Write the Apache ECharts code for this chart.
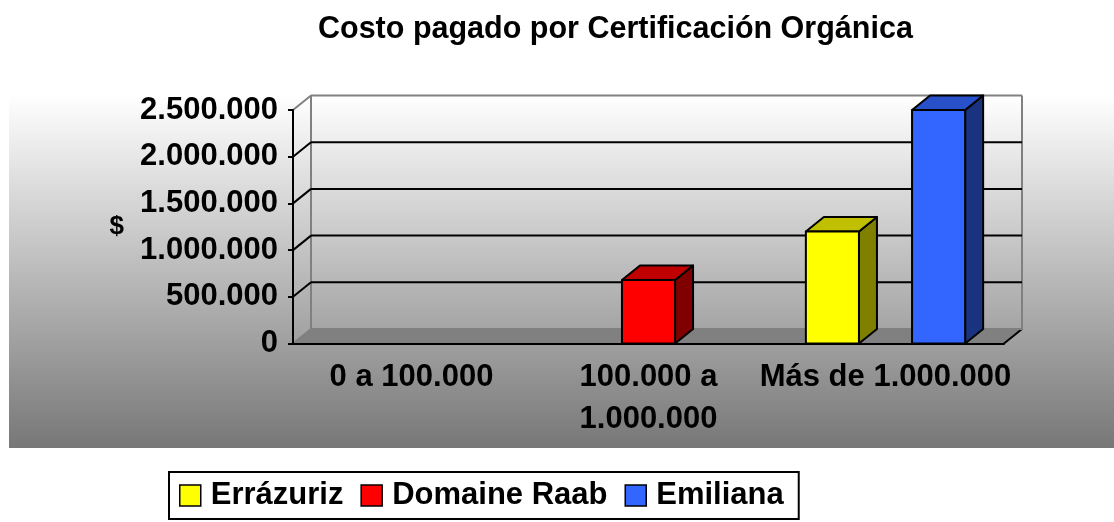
<!DOCTYPE html>
<html>
<head>
<meta charset="utf-8">
<title>Costo pagado por Certificación Orgánica</title>
<script src="https://cdn.jsdelivr.net/npm/echarts@6/dist/echarts.min.js"></script>
<style>
  html, body { margin: 0; padding: 0; background: #fff; }
  #chart { width: 1114px; height: 522px; }
</style>
</head>
<body>
<div id="chart"></div>
<script>
// datos del grafico
var categorias = ['0 a 100.000', '100.000 a\n1.000.000', 'Más de 1.000.000'];
var errazuriz = [0, 0, 1200000];
var domaineRaab = [0, 680000, 0];
var emiliana = [0, 0, 2500000];
var yTicks = [0, 500000, 1000000, 1500000, 2000000, 2500000];

var nombres = ['Errázuriz', 'Domaine Raab', 'Emiliana'];
var valores = [errazuriz, domaineRaab, emiliana];
// colores: frente, techo, lado
var colores = [
  ['#ffff00', '#c0c000', '#808000'],
  ['#ff0000', '#c00000', '#800000'],
  ['#3366ff', '#2850c8', '#193380']
];

var FONT = '"Liberation Sans", Arial, sans-serif';
var DX = 18, DY = -14.5; // profundidad del efecto 3D

function fmt(v) {
  return String(v).replace(/\B(?=(\d{3})+(?!\d))/g, '.');
}

var chart = echarts.init(document.getElementById('chart'));

// pared de fondo, piso y lineas de division
function renderWalls(params, api) {
  var cs = params.coordSys;
  var v = api.value(1);
  var y = api.coord([0, v])[1];
  var xl = cs.x, xr = cs.x + cs.width;
  var gris = '#808080';
  var borde = (v === yTicks[0] || v === yTicks[yTicks.length - 1]);
  var children = [];
  if (v === yTicks[0]) {
    children.push({ type: 'polygon', shape: { points: [[xl, y], [xr, y], [xr + DX, y + DY], [xl + DX, y + DY]] },
      style: { fill: '#808080' } });
    children.push({ type: 'line', shape: { x1: xl + DX, y1: cs.y + DY, x2: xl + DX, y2: y + DY },
      style: { stroke: gris, lineWidth: 2 } });
    children.push({ type: 'line', shape: { x1: xr + DX, y1: cs.y + DY, x2: xr + DX, y2: y + DY },
      style: { stroke: gris, lineWidth: 2 } });
    children.push({ type: 'line', shape: { x1: xr, y1: y, x2: xr + DX, y2: y + DY },
      style: { stroke: '#000', lineWidth: 2 } });
  }
  children.push({ type: 'line', shape: { x1: xl + DX, y1: y + DY, x2: xr + DX, y2: y + DY },
    style: { stroke: borde ? gris : '#000', lineWidth: 2 } });
  children.push({ type: 'line', shape: { x1: xl, y1: y, x2: xl + DX, y2: y + DY },
    style: { stroke: borde ? gris : '#000', lineWidth: 2 } });
  return { type: 'group', children: children };
}

// barra 3D: frente, techo y lado
function makeBar(s) {
  return function (params, api) {
    var v = api.value(1);
    if (!v) return;
    var top = api.coord([api.value(0), v]);
    var base = api.coord([api.value(0), 0]);
    var w = api.size([1, 0])[0] * 0.224;
    var x0 = top[0] + (s - 1) * w - w / 2;
    var x1 = x0 + w, yt = top[1], yb = base[1];
    var c = colores[s];
    function st(fill) {
      return { fill: fill, stroke: '#000', lineWidth: 2, lineJoin: 'round' };
    }
    return {
      type: 'group',
      children: [
        { type: 'polygon', shape: { points: [[x1, yt], [x1 + DX, yt + DY], [x1 + DX, yb + DY], [x1, yb]] }, style: st(c[2]) },
        { type: 'polygon', shape: { points: [[x0, yt], [x1, yt], [x1 + DX, yt + DY], [x0 + DX, yt + DY]] }, style: st(c[1]) },
        { type: 'rect', shape: { x: x0, y: yt, width: w, height: yb - yt }, style: st(c[0]) }
      ]
    };
  };
}

var series = [{
  name: 'paredes',
  type: 'custom',
  z: 1,
  silent: true,
  renderItem: renderWalls,
  encode: { x: 0, y: 1 },
  data: yTicks.map(function (t) { return [0, t]; })
}];
nombres.forEach(function (n, s) {
  series.push({
    name: n,
    type: 'custom',
    z: 3,
    renderItem: makeBar(s),
    itemStyle: { color: colores[s][0] },
    encode: { x: 0, y: 1 },
    data: valores[s].map(function (v, i) { return [i, v]; })
  });
});

var option = {
  backgroundColor: '#fff',
  animation: false,
  title: {
    text: 'Costo pagado por Certificación Orgánica',
    left: 313,
    top: 9,
    textStyle: { fontFamily: FONT, fontSize: 30.5, fontWeight: 'bold', color: '#000' }
  },
  graphic: [{
    type: 'rect',
    z: -10,
    silent: true,
    shape: { x: 9, y: 95, width: 1105, height: 353 },
    style: {
      fill: new echarts.graphic.LinearGradient(0, 0, 0, 1, [
        { offset: 0, color: '#ffffff' },
        { offset: 1, color: '#777777' }
      ])
    }
  }],
  legend: {
    data: nombres,
    left: 169,
    top: 472,
    icon: 'rect',
    itemWidth: 21,
    itemHeight: 21,
    itemGap: 17,
    selectedMode: false,
    padding: [8, 15, 8, 10],
    borderColor: '#000',
    borderWidth: 2,
    backgroundColor: '#fff',
    itemStyle: { borderColor: '#000', borderWidth: 1.5 },
    formatter: '{n|{name}}',
    textStyle: {
      fontFamily: FONT, fontSize: 31, fontWeight: 'bold', color: '#000',
      rich: { n: { fontFamily: FONT, fontSize: 31, fontWeight: 'bold', color: '#000', padding: [0, 0, 0, 5], lineHeight: 34 } }
    }
  },
  grid: { left: 293, right: 110, top: 110, bottom: 178.5 },
  xAxis: {
    type: 'category',
    data: categorias,
    z: 5,
    axisLine: { lineStyle: { color: '#000', width: 2 } },
    axisTick: { interval: 0, length: 5, lineStyle: { color: '#000', width: 2 } },
    axisLabel: { interval: 0, margin: 13, fontFamily: FONT, fontSize: 31, fontWeight: 'bold', color: '#000', lineHeight: 42 }
  },
  yAxis: {
    type: 'value',
    min: yTicks[0],
    max: yTicks[yTicks.length - 1],
    interval: yTicks[1] - yTicks[0],
    z: 5,
    name: '$',
    nameLocation: 'middle',
    nameRotate: 0,
    nameGap: 169,
    nameTextStyle: { fontFamily: FONT, fontSize: 26, fontWeight: 'bold', color: '#000' },
    axisLine: { show: true, lineStyle: { color: '#000', width: 2 } },
    axisTick: { show: true, length: 5, lineStyle: { color: '#000', width: 2 } },
    axisLabel: { formatter: fmt, margin: 15, fontFamily: FONT, fontSize: 31, fontWeight: 'bold', color: '#000' },
    splitLine: { show: false }
  },
  series: series
};

chart.setOption(option);
</script>
</body>
</html>
